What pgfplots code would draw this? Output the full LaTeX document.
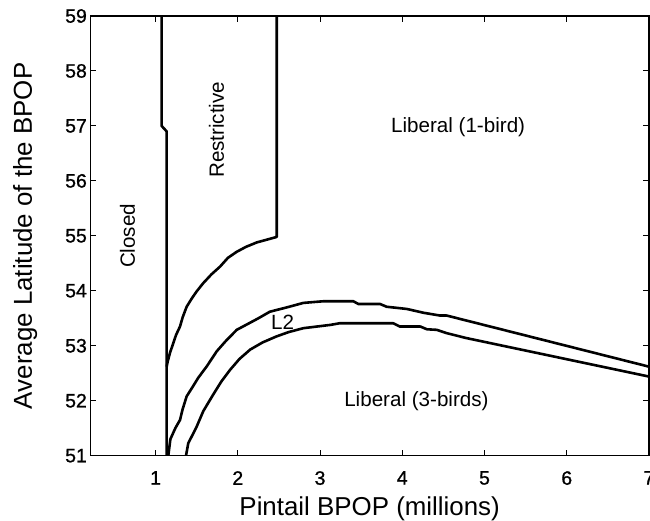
\documentclass[border=0pt]{standalone}
\usepackage{fontspec}
\setmainfont{Liberation Sans}
\newfontfamily\tickfont[FakeBold=1]{Liberation Sans}
\usepackage{pgfplots}
\pgfplotsset{compat=1.18}
\tikzset{region/.style={font=\fontsize{20.7}{24}\selectfont, anchor=base}}

\begin{document}
\begin{tikzpicture}
\begin{axis}[
  width=559bp, height=440bp, scale only axis,
  xmin=0.207, xmax=7, ymin=51, ymax=59,
  xtick={1,...,7}, ytick={51,...,59},
  xtick pos=both, ytick pos=both,
  tick align=inside, major tick length=6bp,
  axis line style={line width=1.5bp},
  tick style={line width=1bp, black},
  /pgf/number format/assume math mode=true,
  tick label style={font=\tickfont\fontsize{19.5}{22}\selectfont},
  xticklabel style={yshift=-12bp},
  xlabel={Pintail BPOP (millions)},
  ylabel={Average Latitude of the BPOP},
  label style={font=\fontsize{26}{30}\selectfont},
  xlabel style={at={(axis description cs:0.5,-0.1364)}, anchor=base},
  ylabel style={at={(axis description cs:-0.1045,0.5)}, anchor=base},
  boundary/.style={black, no marks, line width=2.6bp, line join=round},
]
% Closed / Restrictive boundary
\addplot[boundary] coordinates {(1.074,59) (1.074,57.00) (1.135,56.90) (1.135,51)};
% Restrictive / Liberal (1-bird) boundary
\addplot[boundary] coordinates {(2.473,59) (2.473,54.98) (2.23,54.88) (2.10,54.80)
  (1.987,54.71) (1.88,54.60) (1.784,54.44) (1.68,54.30) (1.58,54.14)
  (1.50,53.99) (1.44,53.86) (1.378,53.71) (1.33,53.52) (1.297,53.35)
  (1.25,53.20) (1.216,53.05) (1.175,52.87) (1.147,52.71) (1.135,52.62)};
% L2, upper curve
\addplot[boundary] coordinates {(1.155,51.0) (1.18,51.3) (1.24,51.5) (1.297,51.65)
  (1.33,51.85) (1.378,52.08) (1.45,52.25) (1.52,52.42) (1.62,52.62)
  (1.744,52.90) (1.85,53.08) (1.987,53.29) (2.15,53.42) (2.25,53.50)
  (2.39,53.62) (2.6,53.70) (2.797,53.78) (3.04,53.81) (3.405,53.81)
  (3.466,53.76) (3.73,53.76) (3.81,53.71) (4.055,53.67) (4.26,53.60)
  (4.46,53.55) (4.54,53.55) (7.0,52.62)};
% L2, lower curve
\addplot[boundary] coordinates {(1.37,51.0) (1.398,51.23) (1.45,51.38) (1.50,51.53)
  (1.58,51.81) (1.70,52.11) (1.80,52.35) (1.905,52.56) (2.02,52.76)
  (2.15,52.93) (2.30,53.06) (2.47,53.17) (2.62,53.25) (2.797,53.32)
  (3.126,53.38) (3.24,53.41) (3.89,53.41) (3.97,53.35) (4.22,53.35)
  (4.30,53.30) (4.42,53.29) (4.54,53.23) (4.78,53.14) (7.0,52.44)};

\node[region, rotate=90] at (axis cs:0.75,55.0) {Closed};
\node[region, rotate=90] at (axis cs:1.832,56.93) {Restrictive};
\node[region] at (axis cs:4.679,56.88) {Liberal (1-bird)};
\node[region] at (axis cs:2.544,53.29) {L2};
\node[region] at (axis cs:4.172,51.90) {Liberal (3-birds)};
\end{axis}
\pgfresetboundingbox
\path ([shift={(-90.4bp,-65bp)}]current axis.south west)
  rectangle ([shift={(1bp,16bp)}]current axis.north east);
\end{tikzpicture}
\end{document}
